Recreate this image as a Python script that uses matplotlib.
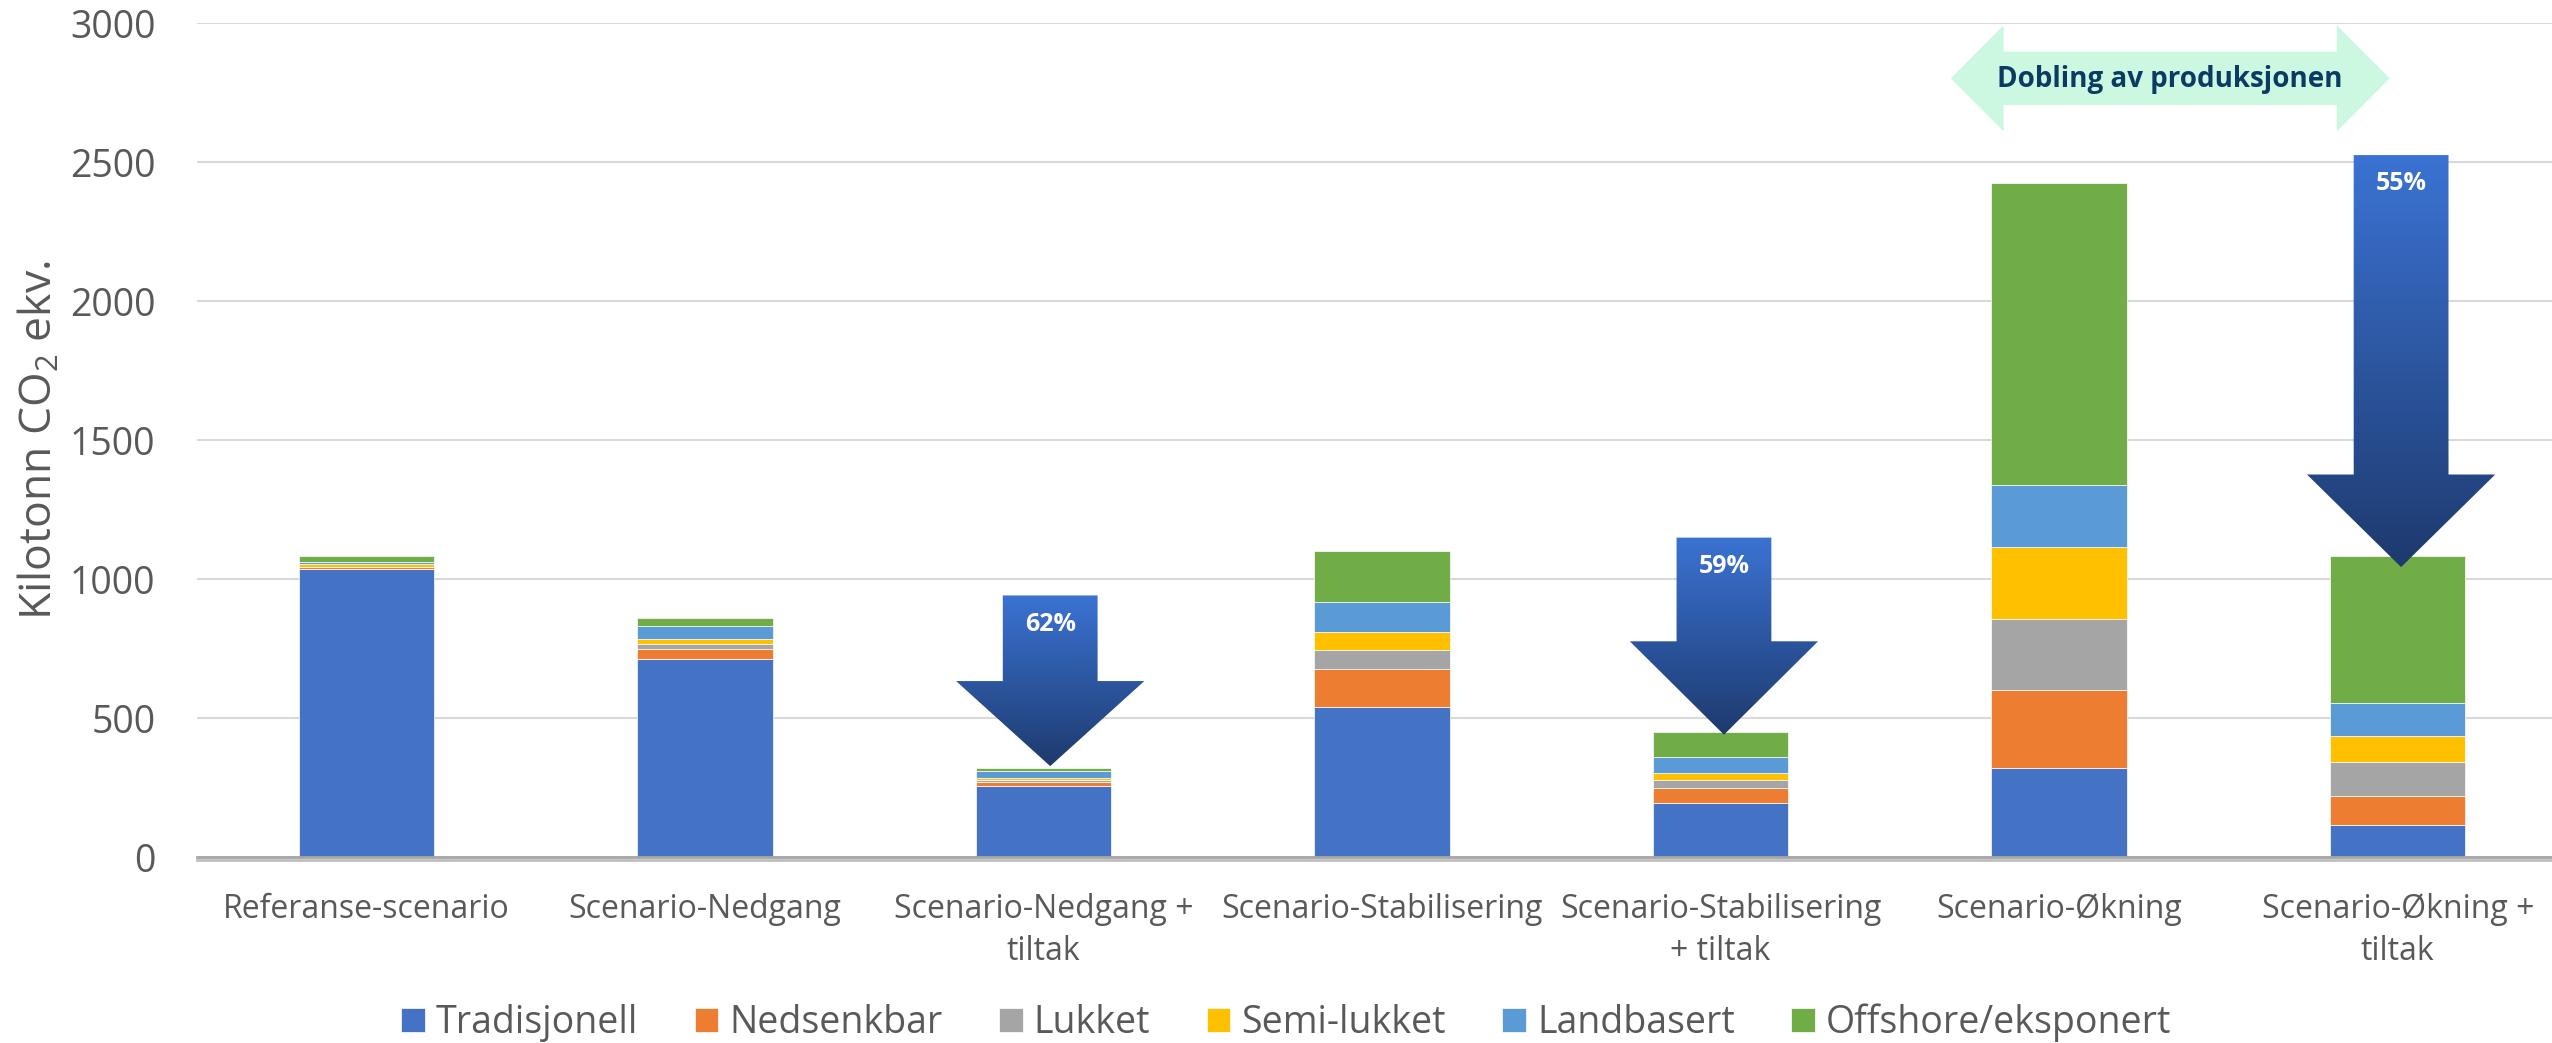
import matplotlib.pyplot as plt
import numpy as np
import matplotlib.patheffects as pe
from matplotlib.patches import Polygon
from matplotlib.colors import LinearSegmentedColormap

plt.rcParams['font.family'] = ['Open Sans', 'DejaVu Sans']
plt.rcParams['mathtext.fontset'] = 'custom'
plt.rcParams['mathtext.rm'] = 'Open Sans'

# %% data
categories = ['Referanse-scenario', 'Scenario-Nedgang', 'Scenario-Nedgang +\ntiltak',
              'Scenario-Stabilisering', 'Scenario-Stabilisering\n+ tiltak',
              'Scenario-Økning', 'Scenario-Økning +\ntiltak']
series_names = ['Tradisjonell', 'Nedsenkbar', 'Lukket', 'Semi-lukket', 'Landbasert', 'Offshore/eksponert']
tradisjonell = [1035, 713, 257, 539, 194, 320, 114]
nedsenkbar = [8, 37, 14, 139, 53, 281, 107]
lukket = [2, 18, 7, 65, 30, 254, 122]
semi_lukket = [10, 18, 8, 65, 24, 259, 93]
landbasert = [5, 45, 22, 111, 58, 223, 118]
offshore = [22, 30, 14, 183, 89, 1087, 529]
colors = ['#4472C4', '#ED7D31', '#A5A5A5', '#FFC000', '#5B9BD5', '#70AD47']

# reduction arrows: x position, top of shaft, start of head, tip, label
red_x = [2.02, 4.01, 6.01]
red_top = [941, 1149, 2525]
red_head = [633, 776, 1376]
red_tip = [327, 440, 1043]
red_labels = ['62%', '59%', '55%']

# %%
fig = plt.figure(figsize=(25.52, 10.43), dpi=100)
ax = fig.add_axes([197 / 2552, 0.1783, 2370 / 2552, 0.7996])

x = np.arange(len(categories))
bottom = np.zeros(len(categories))
bars = []
for name, vals, c in zip(series_names,
                         [tradisjonell, nedsenkbar, lukket, semi_lukket, landbasert, offshore],
                         colors):
    b = ax.bar(x, vals, 0.4, bottom=bottom, color=c, edgecolor='white', linewidth=0.5,
               label=name, zorder=2)
    bars.append(b)
    bottom += np.array(vals)

# gradient arrows
cmap = LinearSegmentedColormap.from_list('arr', ['#3B73D3', '#1E3A6E'])
grad = np.linspace(0, 1, 256).reshape(-1, 1)
sw, hw = 0.14, 0.278
for xc, top, hs, tip, lab in zip(red_x, red_top, red_head, red_tip, red_labels):
    pts = [(xc - sw, top), (xc + sw, top), (xc + sw, hs), (xc + hw, hs), (xc, tip),
           (xc - hw, hs), (xc - sw, hs)]
    poly = Polygon(pts, closed=True, facecolor='none', edgecolor='none', zorder=3)
    ax.add_patch(poly)
    im = ax.imshow(grad, extent=[xc - hw, xc + hw, tip, top], aspect='auto', cmap=cmap,
                   origin='upper', zorder=3)
    im.set_clip_path(poly)
    ax.text(xc, top - 103, lab, ha='center', va='center', color='white',
            fontsize=18, fontweight='bold', zorder=4)

# double arrow over the growth scenario
dx0, dx1, dh = 4.68, 5.976, 0.156
dy, dsw, dhw = 2801, 96, 191
dpts = [(dx0, dy), (dx0 + dh, dy + dhw), (dx0 + dh, dy + dsw), (dx1 - dh, dy + dsw),
        (dx1 - dh, dy + dhw), (dx1, dy), (dx1 - dh, dy - dhw), (dx1 - dh, dy - dsw),
        (dx0 + dh, dy - dsw), (dx0 + dh, dy - dhw)]
ax.add_patch(Polygon(dpts, closed=True, facecolor='#CCF7E1', edgecolor='none', zorder=3))
ax.text((dx0 + dx1) / 2, dy - 5, 'Dobling av produksjonen', ha='center', va='center',
        color='#0B3B62', fontsize=20, fontweight='bold', zorder=4)

ax.set_xlim(-0.5, 6.5)
ax.set_ylim(0, 3000)
ax.set_yticks([0, 500, 1000, 1500, 2000, 2500, 3000])
ax.set_xticks(x)
ax.set_xticklabels(categories, fontsize=23, color='#595959', linespacing=1.35)
ax.tick_params(axis='y', labelsize=27, colors='#595959', length=0, pad=30)
ax.tick_params(axis='x', length=0, pad=26)
ax.grid(axis='y', color='#D9D9D9', linewidth=1.5, zorder=0)
ax.set_axisbelow(True)
for s in ['top', 'right', 'left']:
    ax.spines[s].set_visible(False)
ax.spines['bottom'].set_color('#A6A6A6')
ax.spines['bottom'].set_linewidth(2)
ax.spines['bottom'].set_zorder(5)
ax.spines['bottom'].set_path_effects([pe.SimpleLineShadow(offset=(0, -2), shadow_color='gray', alpha=0.5),
                                      pe.Normal()])

ax.set_ylabel('Kilotonn CO$_\\mathregular{2}$ ekv.', fontsize=32, color='#595959')
ax.yaxis.set_label_coords(-0.0565, 0.5)

fig.legend(handles=bars, loc='center', bbox_to_anchor=(0.504, 0.019), ncol=6, frameon=False,
           fontsize=27, labelcolor='#595959', handlelength=0.63, handleheight=0.6,
           handletextpad=0.3, columnspacing=1.5)

fig.savefig('out.png', dpi=100)
